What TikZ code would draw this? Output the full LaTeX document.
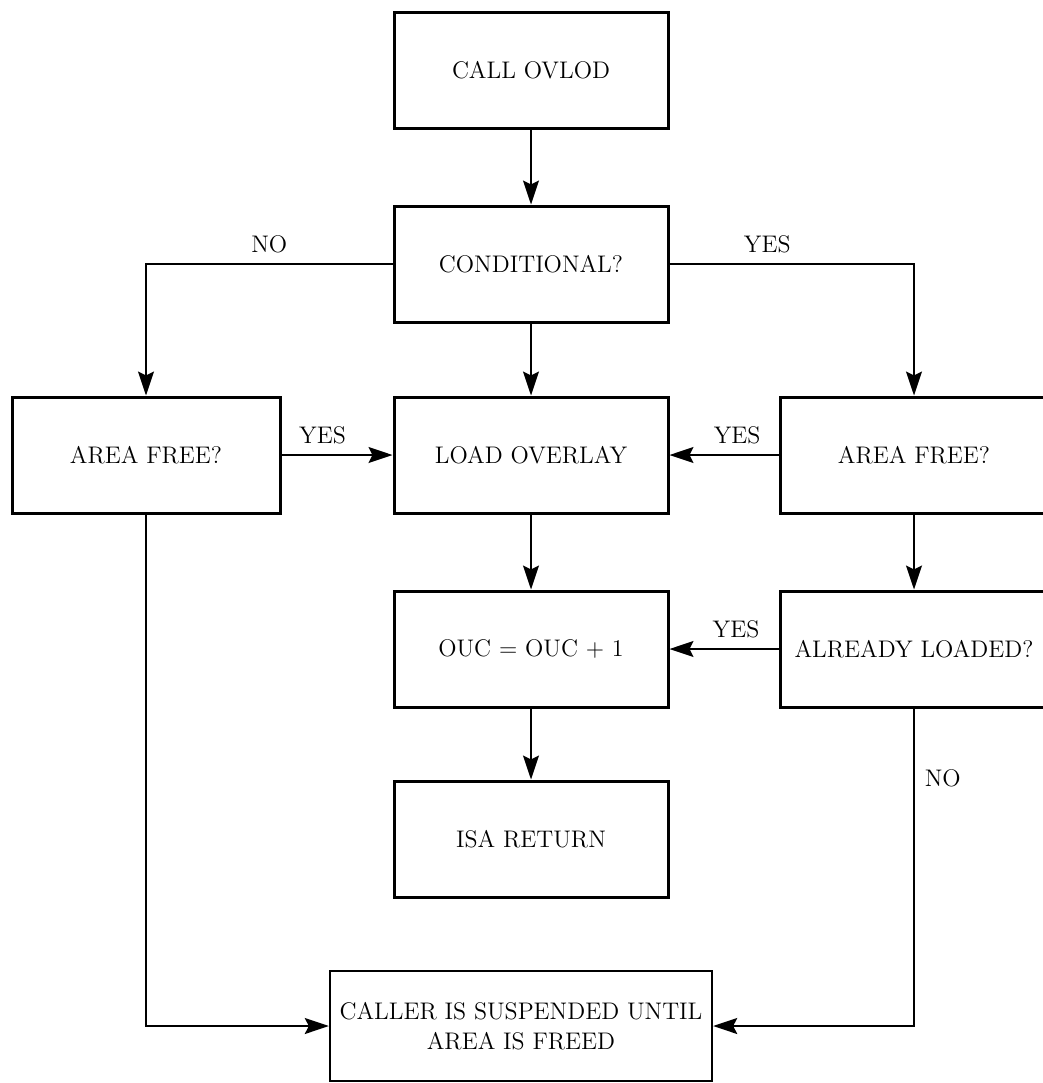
\documentclass[tikz,border=0pt]{standalone}
\usepackage{tikz}
\usetikzlibrary{arrows.meta}

\begin{document}
\begin{tikzpicture}[x=0.5pt, y=-0.5pt,
    box/.style={draw, line width=1.5pt, minimum width=137pt, minimum height=58pt, align=center, font=\fontsize{12}{15}\selectfont},
    lbl/.style={font=\fontsize{12}{15}\selectfont, inner sep=2pt},
    arr/.style={line width=0.85pt, -{Stealth[length=12pt, width=8pt, inset=2pt]}}]
    \path[use as bounding box, clip] (0,0) rectangle (1043,1083);

    % Create the boxes
    \node[box] (call) at (531,70) {CALL OVLOD};
    \node[box] (cond) at (531,264) {CONDITIONAL?};
    \node[box] (load) at (531,455) {LOAD OVERLAY};
    \node[box] (ouc) at (531,649) {OUC = OUC + 1};
    \node[box] (isa) at (531,839) {ISA RETURN};
    \node[box, minimum width=134pt] (areal) at (146,455) {AREA FREE?};
    \node[box, minimum width=134pt] (arear) at (914,455) {AREA FREE?};
    \node[box, minimum width=134pt] (loaded) at (914,649) {ALREADY LOADED?};
    \node[box, line width=1.2pt, inner sep=2pt, minimum width=191pt, minimum height=55pt] (caller) at (521,1026)
        {CALLER IS SUSPENDED UNTIL\\AREA IS FREED};

    % Draw connectors
    \draw[arr] (call) -- (cond);
    \draw[arr] (cond.west) -| (areal.north) node[lbl, pos=0.25, above=3pt] {NO};
    \draw[arr] (cond.east) -| (arear.north) node[lbl, pos=0.2, above=3pt] {YES};
    \draw[arr] (cond) -- (load);
    \draw[arr] (areal.east) -- (load.west) node[lbl, pos=0.37, above=3pt] {YES};
    \draw[arr] (arear.west) -- (load.east) node[lbl, pos=0.38, above=3pt] {YES};
    \draw[arr] (load) -- (ouc);
    \draw[arr] (arear) -- (loaded);
    \draw[arr] (loaded.west) -- (ouc.east) node[lbl, pos=0.39, above=3pt] {YES};
    \draw[arr] (ouc) -- (isa);
    \draw[arr] (areal.south) |- (caller.west);
    \draw[arr] (loaded.south) |- (caller.east) node[lbl, pos=0.11, right=3pt] {NO};
\end{tikzpicture}
\end{document}
